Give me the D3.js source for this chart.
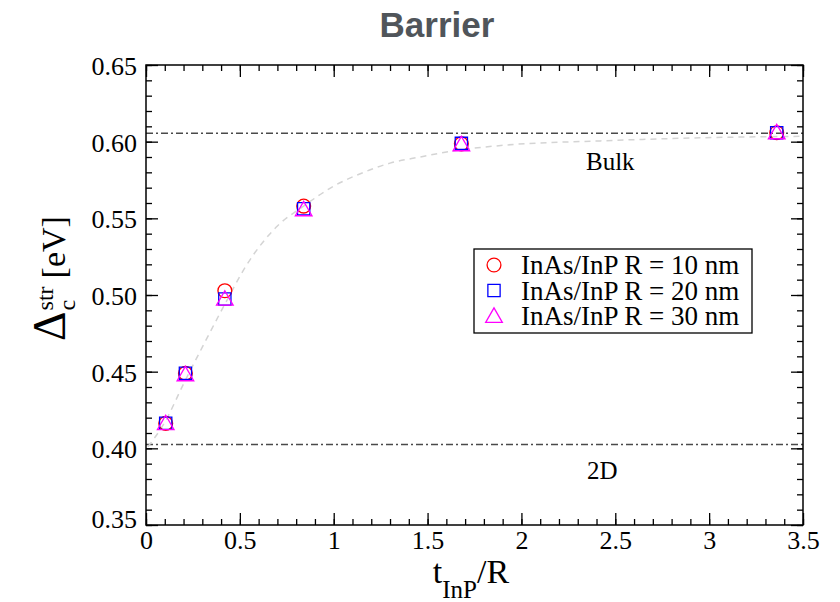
<!DOCTYPE html>
<html>
<head>
<meta charset="utf-8">
<script src="https://cdn.jsdelivr.net/npm/d3@7"></script>
<style>
  body { margin: 0; background: #fff; }
  text { font-family: "Liberation Serif", "Times New Roman", serif; }
</style>
</head>
<body>
<script>
// values
var tOverR = [0.105, 0.21, 0.42, 0.84, 1.68, 3.36];
var r10 = [0.4163, 0.4489, 0.5028, 0.5580, 0.5986, 0.6058];
var r20 = [0.4163, 0.4490, 0.4974, 0.5563, 0.5989, 0.6058];
var r30 = [0.4163, 0.4482, 0.4975, 0.5558, 0.5982, 0.6060];
var seriesNames = ["InAs/InP R = 10 nm", "InAs/InP R = 20 nm", "InAs/InP R = 30 nm"];
var bulkLevel = 0.6055;
var twoDLevel = 0.4025;
// light dashed guide curve, points traced along it
var guideX = [0.01, 0.1, 0.2, 0.3, 0.42, 0.533, 0.7, 0.84, 1.0, 1.16, 1.3, 1.46, 1.64, 1.89, 2.42, 2.95, 3.5];
var guideY = [0.401, 0.417, 0.442, 0.466, 0.494, 0.519, 0.545, 0.558, 0.571, 0.580, 0.586, 0.590, 0.594, 0.5975, 0.6005, 0.6025, 0.6035];
var xTickLabels = [0, 0.5, 1, 1.5, 2, 2.5, 3, 3.5];
var yTickLabels = [0.35, 0.40, 0.45, 0.50, 0.55, 0.60, 0.65];

var W = 840, H = 602;
var pLeft = 146, pTop = 65, pRight = 803, pBottom = 525;

var svg = d3.select("body").append("svg")
    .attr("width", W)
    .attr("height", H);

var x = d3.scaleLinear().domain([0, 3.5]).range([pLeft, pRight]);
var y = d3.scaleLinear().domain([0.35, 0.65]).range([pBottom, pTop]);

var xMinor = d3.range(0, 36).map(function(i) { return i / 10; });
var yMinor = d3.range(0, 31).map(function(i) { return 0.35 + i / 100; });

//Axes: ticks point inward on all four sides
function drawAxis(axis, tx, ty, cls) {
    var g = svg.append("g")
        .attr("class", cls)
        .attr("transform", "translate(" + tx + "," + ty + ")")
        .call(axis);
    g.select(".domain").remove();
    g.selectAll("line").attr("stroke", "#000").attr("stroke-width", 1.3);
    g.selectAll("text")
        .attr("fill", "#000")
        .style("font-family", "'Liberation Serif', 'Times New Roman', serif")
        .style("font-size", "26px");
    return g;
}

drawAxis(d3.axisBottom(x).tickValues(xMinor).tickSize(-6).tickFormat(""), 0, pBottom, "xminor");
drawAxis(d3.axisBottom(x).tickValues(xTickLabels).tickSize(-12).tickPadding(8)
    .tickFormat(function(d) { return String(d); }), 0, pBottom, "xmajor");
drawAxis(d3.axisTop(x).tickValues(xMinor).tickSize(-6).tickFormat(""), 0, pTop, "xminor-top");
drawAxis(d3.axisTop(x).tickValues(xTickLabels).tickSize(-12).tickFormat(""), 0, pTop, "xmajor-top");

drawAxis(d3.axisLeft(y).tickValues(yMinor).tickSize(-6).tickFormat(""), pLeft, 0, "yminor");
drawAxis(d3.axisLeft(y).tickValues(yTickLabels).tickSize(-12).tickPadding(9)
    .tickFormat(d3.format(".2f")), pLeft, 0, "ymajor");
drawAxis(d3.axisRight(y).tickValues(yMinor).tickSize(-6).tickFormat(""), pRight, 0, "yminor-right");
drawAxis(d3.axisRight(y).tickValues(yTickLabels).tickSize(-12).tickFormat(""), pRight, 0, "ymajor-right");

// x labels sit a bit lower in the reference
svg.select(".xmajor").selectAll("text").attr("dy", "0.6em");
svg.select(".ymajor").selectAll("text").attr("dy", "0.36em");
svg.select(".ymajor").selectAll(".tick").filter(function(d) { return d === 0.35; })
    .select("text").attr("dy", "0.1em");

//Limit lines
[bulkLevel, twoDLevel].forEach(function(v) {
    svg.append("line")
        .attr("x1", x(0)).attr("x2", x(3.5))
        .attr("y1", y(v)).attr("y2", y(v))
        .attr("stroke", "#4a4a4a")
        .attr("stroke-width", 1.3)
        .attr("stroke-dasharray", "7,3,2,3");
});

svg.append("text")
    .attr("x", 586).attr("y", y(bulkLevel) + 37)
    .style("font-size", "25px")
    .text("Bulk");
svg.append("text")
    .attr("x", 587).attr("y", y(twoDLevel) + 34)
    .style("font-size", "25px")
    .text("2D");

//Guide curve
var guide = d3.zip(guideX, guideY);
var lineGen = d3.line()
    .x(function(d) { return x(d[0]); })
    .y(function(d) { return y(d[1]); })
    .curve(d3.curveMonotoneX);

svg.append("path")
    .attr("d", lineGen(guide))
    .attr("fill", "none")
    .attr("stroke", "#d4d4d4")
    .attr("stroke-width", 1.5)
    .attr("stroke-dasharray", "6,5");

//Markers
var colors = ["#ff0000", "#0000ff", "#ff00ff"];
var shapes = [d3.symbolCircle, d3.symbolSquare, d3.symbolTriangle];
var sizes = [150, 150, 120];
var allSeries = [r10, r20, r30];

function marker(g, i) {
    g.append("path")
        .attr("d", d3.symbol().type(shapes[i]).size(sizes[i])())
        .attr("transform", i === 2 ? "translate(0,1.5)" : null)
        .attr("fill", "none")
        .attr("stroke", colors[i])
        .attr("stroke-width", 1.3);
}

allSeries.forEach(function(vals, i) {
    svg.append("g").selectAll("g")
        .data(d3.zip(tOverR, vals))
        .join("g")
        .attr("transform", function(d) { return "translate(" + x(d[0]) + "," + y(d[1]) + ")"; })
        .each(function() { marker(d3.select(this), i); });
});

//Frame
svg.append("rect")
    .attr("x", pLeft).attr("y", pTop)
    .attr("width", pRight - pLeft).attr("height", pBottom - pTop)
    .attr("fill", "none")
    .attr("stroke", "#000")
    .attr("stroke-width", 1.5);

//Legend
var legend = svg.append("g");
legend.append("rect")
    .attr("x", 474).attr("y", 249)
    .attr("width", 278).attr("height", 84)
    .attr("fill", "#fff")
    .attr("stroke", "#000")
    .attr("stroke-width", 1.3);

seriesNames.forEach(function(name, i) {
    var ry = 265 + i * 25.5;
    var g = legend.append("g").attr("transform", "translate(494," + ry + ")");
    marker(g, i);
    legend.append("text")
        .attr("x", 521).attr("y", ry + 9)
        .style("font-size", "27px")
        .text(name);
});

//Title
svg.append("text")
    .attr("x", 437).attr("y", 37)
    .attr("text-anchor", "middle")
    .attr("fill", "#50555a")
    .style("font-family", "'Liberation Sans', Arial, sans-serif")
    .style("font-weight", "bold")
    .style("font-size", "35px")
    .text("Barrier");

//X title: t_InP/R
var xt = svg.append("g");
var t1 = xt.append("text").attr("y", 583).style("font-size", "34px").text("t");
var t2 = xt.append("text").attr("y", 598).style("font-size", "25px").text("InP");
var t3 = xt.append("text").attr("y", 583).style("font-size", "34px").text("/R");
var w1 = t1.node().getComputedTextLength();
var w2 = t2.node().getComputedTextLength();
var w3 = t3.node().getComputedTextLength();
var x0 = 471 - (w1 + w2 + w3) / 2;
t1.attr("x", x0);
t2.attr("x", x0 + w1);
t3.attr("x", x0 + w1 + w2);

//Y title: Delta_c^str [eV], rotated
var yt = svg.append("g").attr("transform", "translate(65,341) rotate(-90)");
var d1 = yt.append("text").attr("x", 0).attr("y", 0).style("font-size", "46px").text("Δ");
var dw = d1.node().getComputedTextLength();
var sub = yt.append("text").attr("x", dw + 1).attr("y", 10).style("font-size", "24px").text("c");
var sup = yt.append("text").attr("x", dw + 1).attr("y", -12).style("font-size", "24px").text("str");
var sw = Math.max(sub.node().getComputedTextLength(), sup.node().getComputedTextLength());
yt.append("text").attr("x", dw + sw + 9).attr("y", 0).style("font-size", "34px").text("[eV]");
</script>
</body>
</html>
